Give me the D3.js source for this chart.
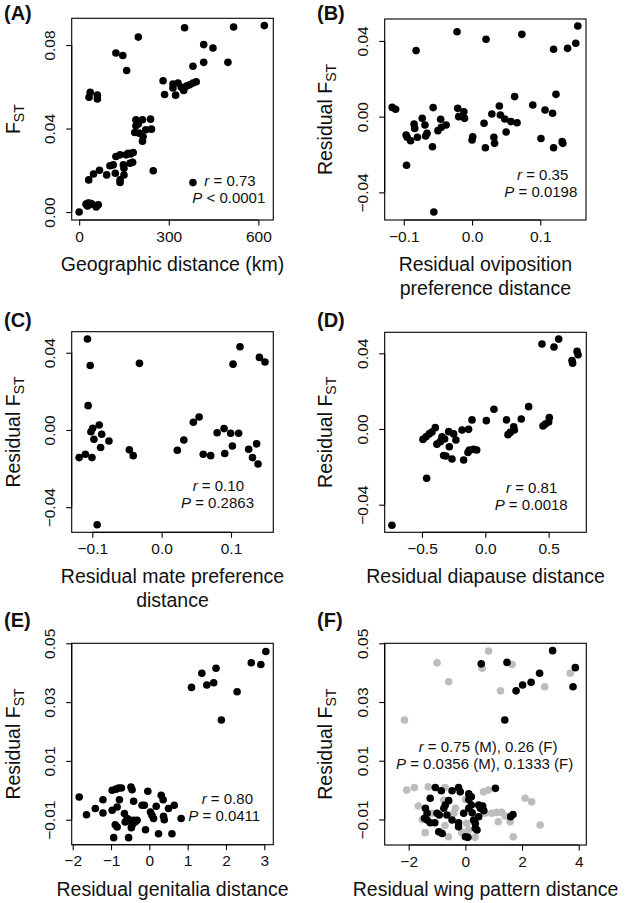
<!DOCTYPE html>
<html><head><meta charset="utf-8">
<script src="https://cdn.jsdelivr.net/npm/d3@7"></script>
<style>
body{margin:0;background:#fff}
svg{font-family:"Liberation Sans",Arial,Helvetica,sans-serif}
</style>
</head><body>
<svg id="chart" width="625" height="903"></svg>
<script>
// ---------------- DATA ----------------
const panelLabels = ["(A)", "(B)", "(C)", "(D)", "(E)", "(F)"];
const xTitles = [
  ["Geographic distance (km)"],
  ["Residual oviposition", "preference distance"],
  ["Residual mate preference", "distance"],
  ["Residual diapause distance"],
  ["Residual genitalia distance"],
  ["Residual wing pattern distance"]
];
const yTitlePrefixes = ["", "Residual ", "Residual ", "Residual ", "Residual ", "Residual "];
const xTickValues = [[0, 300, 600], [-0.1, 0, 0.1], [-0.1, 0, 0.1], [-0.5, 0, 0.5], [-2, -1, 0, 1, 2, 3], [-2, 0, 2, 4]];
const xTickLabels = [["0", "300", "600"], ["\u22120.1", "0.0", "0.1"], ["\u22120.1", "0.0", "0.1"], ["\u22120.5", "0.0", "0.5"],
  ["\u22122", "\u22121", "0", "1", "2", "3"], ["\u22122", "0", "2", "4"]];
const yTickValues = [[0, 0.04, 0.08], [-0.04, 0, 0.04], [-0.04, 0, 0.04], [-0.04, 0, 0.04], [-0.01, 0.01, 0.03, 0.05], [-0.01, 0.01, 0.03, 0.05]];
const yTickLabels = [["0.00", "0.04", "0.08"], ["\u22120.04", "0.00", "0.04"], ["\u22120.04", "0.00", "0.04"], ["\u22120.04", "0.00", "0.04"],
  ["\u22120.01", "0.01", "0.03", "0.05"], ["\u22120.01", "0.01", "0.03", "0.05"]];
const xDomains = [[-25, 650], [-0.128, 0.167], [-0.1297, 0.161], [-0.794, 0.797], [-2.026, 3.235], [-2.847, 4.268]];
const yDomains = [[-0.0038, 0.0928], [-0.0546, 0.0516], [-0.053, 0.0509], [-0.0546, 0.0511], [-0.0185, 0.05], [-0.0187, 0.05]];
const statR = ["0.73", "0.35", "0.10", "0.81", "0.80", "0.75 (M), 0.26 (F)"];
const statRel = ["<", "=", "=", "=", "=", "="];
const statP = ["0.0001", "0.0198", "0.2863", "0.0018", "0.0411", "0.0356 (M), 0.1333 (F)"];

const pointsA = [[0,0],[23,0.0038],[30,0.0043],[37,0.0042],[28,0.0029],[43,0.0038],[57,0.0024],[64,0.0035],
  [32,0.0154],[48,0.0182],[68,0.020],[37,0.0573],[33,0.055],[61,0.056],[61,0.0542],[123,0.0762],[146,0.075],
  [159,0.0678],[198,0.0838],[92,0.0178],[103,0.0222],[114,0.0226],[121,0.0186],[123,0.0266],[137,0.0274],
  [137,0.0154],[137,0.0142],[150,0.0178],[148,0.0226],[150,0.021],[157,0.0274],[164,0.0282],[172,0.0278],
  [179,0.0238],[181,0.0285],[170,0.0234],[248,0.0198],[190,0.0442],[190,0.0413],[212,0.0442],[239,0.0445],
  [186,0.0381],[201,0.0378],[214,0.0362],[212,0.0339],[223,0.0394],[242,0.0397],[198,0.0422],[281,0.0629],
  [286,0.0563],[314,0.0613],[323,0.056],[331,0.0618],[342,0.0598],[350,0.0582],[353,0.0598],[361,0.0605],
  [370,0.061],[381,0.0618],[392,0.0624],[314,0.0594],[381,0.0698],[417,0.0717],[417,0.0802],[448,0.0786],
  [498,0.0717],[353,0.0883],[517,0.0886],[620,0.0893],[381,0.0141]];
const pointsB = [[-0.117,0.0049],[-0.112,0.0039],[-0.0966,-0.0097],[-0.095,-0.0109],[-0.096,-0.0257],[-0.090,-0.0127],
  [-0.085,-0.0039],[-0.084,-0.0062],[-0.082,0.0349],[-0.080,-0.0109],[-0.073,-0.0009],[-0.069,-0.0044],
  [-0.068,-0.0102],[-0.066,-0.0088],[-0.057,0.0048],[-0.058,-0.0159],[-0.056,-0.0504],[-0.050,-0.0074],
  [-0.046,-0.0014],[-0.045,-0.0056],[-0.038,-0.0044],[-0.022,0.0449],[-0.021,0.0044],[-0.0195,0],
  [-0.012,0.0026],[-0.011,-0.0009],[0.001,-0.0106],[0.000,-0.0123],[0.0176,-0.0035],[0.0195,-0.0164],
  [0.0205,0.0409],[0.029,0.0014],[0.032,-0.0109],[0.033,-0.0141],[0.040,0.0056],[0.0415,0.0009],
  [0.048,-0.0012],[0.050,-0.0081],[0.057,-0.0026],[0.0624,0.0106],[0.066,-0.0032],[0.073,0.0435],
  [0.089,0.0062],[0.101,-0.0115],[0.107,0.0035],[0.118,0.0018],[0.1195,0.0356],[0.1195,-0.0164],
  [0.123,0.0118],[0.132,-0.0132],[0.133,-0.0141],[0.140,0.0361],[0.152,0.0388],[0.155,0.0479]];
const pointsC = [[-0.119,-0.0143],[-0.110,-0.0126],[-0.107,0.0471],[-0.103,0.0334],[-0.106,0.0126],[-0.102,-0.0009],
  [-0.1005,-0.0143],[-0.0995,0.0009],[-0.0976,-0.0048],[-0.093,-0.0491],[-0.090,0.0026],[-0.088,-0.0091],
  [-0.0865,-0.0022],[-0.076,-0.0057],[-0.0466,-0.0103],[-0.041,-0.0133],[-0.032,0.0345],[0.0226,-0.0105],
  [0.032,-0.0052],[0.0457,0.004],[0.054,0.0067],[0.060,-0.0126],[0.0707,-0.0133],[0.080,-0.0014],
  [0.090,0.0007],[0.091,-0.0122],[0.0995,-0.0017],[0.102,-0.0083],[0.103,0.0341],[0.111,-0.0017],
  [0.113,0.0431],[0.1255,-0.01],[0.131,-0.0143],[0.137,-0.0072],[0.139,-0.0176],[0.141,0.0376],[0.149,0.0352]];
const pointsD = [[-0.737,-0.0509],[-0.492,-0.0055],[-0.468,-0.0041],[-0.463,-0.0261],[-0.442,-0.0026],[-0.421,-0.0016],
  [-0.395,0.0007],[-0.382,-0.008],[-0.355,-0.0067],[-0.342,-0.0041],[-0.329,-0.014],[-0.321,-0.0053],
  [-0.311,-0.0143],[-0.289,-0.0014],[-0.284,-0.0094],[-0.263,-0.0159],[-0.25,-0.0026],[-0.232,-0.0058],
  [-0.184,-0.0005],[-0.171,-0.0164],[-0.132,-0.0002],[-0.137,-0.0124],[-0.126,-0.0111],[-0.105,0.0048],
  [-0.092,-0.0108],[-0.068,-0.0111],[0.008,0.0044],[0.068,0.0104],[0.168,0.0048],[0.179,-0.003],
  [0.197,-0.0018],[0.224,0.0012],[0.229,-0.0005],[0.284,0.0053],[0.342,0.0118],[0.447,0.0449],
  [0.455,0.0016],[0.474,0.0026],[0.5,0.0037],[0.505,0.006],[0.542,0.0433],[0.579,0.0475],
  [0.684,0.0362],[0.689,0.0348],[0.724,0.041],[0.732,0.0392]];
const pointsE = [[-1.83,-0.0023],[-1.64,-0.0083],[-1.41,-0.0062],[-1.21,-0.0032],[-1.21,-0.0077],[-0.97,0.0],
  [-0.87,0.0004],[-0.80,0.0008],[-0.73,0.0008],[-0.78,-0.0032],[-0.97,-0.0068],[-0.84,-0.0057],
  [-0.89,-0.0117],[-0.84,-0.0125],[-0.93,-0.0161],[-0.65,-0.0079],[-0.58,-0.0096],[-0.63,-0.0108],
  [-0.54,-0.0161],[-0.48,0.0011],[-0.45,0.0002],[-0.41,-0.0037],[-0.50,-0.0102],[-0.41,-0.0102],
  [-0.45,-0.0119],[-0.37,-0.0108],[-0.32,-0.0102],[-0.47,-0.0127],[-0.19,-0.0051],[-0.13,-0.0051],
  [-0.10,-0.0134],[-0.04,-0.0003],[0.03,-0.0074],[0.07,-0.0085],[0.11,-0.0096],[0.18,-0.0054],
  [0.24,-0.0148],[0.31,-0.0017],[0.36,-0.0032],[0.37,-0.0088],[0.39,-0.01],[0.50,-0.0062],
  [0.59,-0.0148],[0.65,-0.0051],[0.83,-0.0096],[1.10,0.035],[1.37,0.0398],[1.50,0.0358],[1.68,0.0366],
  [1.74,0.0415],[1.88,0.0239],[2.29,0.0335],[2.66,0.0434],[2.91,0.0428],[3.04,0.0472]];
const pointsFFemale = [[-2.15,0.0239],[-1.0,0.0434],[-0.59,0.0369],[0.59,0.0415],[0.82,0.0474],[1.65,0.0428],
  [1.24,0.0338],[2.8,0.0352],[3.7,0.0398],[-2.07,0.0],[-1.80,0.0009],[-1.31,0.0011],[-0.72,0.0009],
  [0.64,-0.0006],[0.81,0.0],[-1.66,-0.0054],[-1.52,-0.01],[-1.42,-0.0145],[-0.89,-0.0142],[-0.72,-0.0121],
  [-0.13,-0.0144],[0.05,-0.0113],[0.34,-0.0161],[0.69,-0.0079],[0.93,-0.0079],[1.11,-0.0076],[1.28,-0.0076],
  [1.40,-0.0088],[1.16,-0.0108],[-0.60,-0.0159],[0.11,-0.0136],[2.11,-0.0028],[2.34,-0.004],[1.58,-0.0108],
  [2.64,-0.0119],[1.69,-0.0159],[-0.76,-0.0034],[0.0,-0.0032],[-1.18,-0.0079],[-0.41,-0.0079],[-0.35,-0.0062]];
const pointsFMale = [[-1.06,0.0009],[-0.85,-0.0002],[-0.47,-0.0002],[-0.24,0.0009],[-0.18,-0.0006],[0.12,-0.0013],
  [0.12,-0.0032],[0.21,-0.0023],[1.06,0.0006],[-1.24,-0.0028],[-1.41,-0.0062],[-1.35,-0.0079],[-1.44,-0.0096],
  [-1.35,-0.0102],[-1.24,-0.0111],[-1.08,-0.0111],[-0.94,-0.0142],[-0.82,-0.0148],[-1.0,-0.0079],
  [-0.76,-0.0062],[-0.59,-0.0036],[-0.71,-0.0051],[-0.92,-0.0085],[-0.65,-0.0085],[-0.47,-0.0102],
  [-0.24,-0.0111],[-0.24,-0.0125],[-0.06,-0.0079],[0.0,-0.0159],[0.09,-0.0161],[0.12,-0.0062],[0.21,-0.0051],
  [0.24,-0.0077],[0.29,-0.0102],[0.35,-0.0113],[0.35,-0.013],[0.41,-0.0136],[0.47,-0.0051],[0.53,-0.0062],
  [0.61,-0.0054],[0.65,-0.007],[0.47,-0.0091],[1.60,-0.0091],[1.68,-0.0083],[0.56,0.043],[1.47,0.0435],
  [1.39,0.0239],[1.79,0.0338],[2.02,0.0358],[2.32,0.0367],[2.62,0.0398],[3.08,0.0475],[3.80,0.0352],[3.88,0.0417]];

const pointSets = [
  [{pts: pointsA, color: "#000"}],
  [{pts: pointsB, color: "#000"}],
  [{pts: pointsC, color: "#000"}],
  [{pts: pointsD, color: "#000"}],
  [{pts: pointsE, color: "#000"}],
  [{pts: pointsFFemale, color: "#bdbdbd"}, {pts: pointsFMale, color: "#000"}]
];

// ---------------- LAYOUT ----------------
const boxes = [ // left, right, top, bottom
  [71.7, 273.3, 18.3, 220], [384.7, 586, 19, 220],
  [71.7, 273.3, 331.7, 532.3], [384.7, 586.3, 332.3, 532.3],
  [71.7, 273.3, 643.3, 844.7], [384.7, 586.3, 643.3, 845]
];
const labelPos = [[4, 20], [317, 20], [4, 327], [317, 327], [4, 627], [317, 627]];
const statPos = [ // r line start x, baseline y, P line start x, baseline y
  [204.3, 186, 192.3, 203], [517, 179.5, 504.3, 197],
  [192.7, 491, 181, 508], [506, 492.5, 494.7, 509.5],
  [201.7, 804, 188.3, 821], [418.7, 751.5, 396, 768.5]
];

const svg = d3.select("#chart");
const tickFont = 15.5, statFont = 15, titleFont = 19.5, labelFont = 20;

boxes.forEach((b, i) => {
  const [L, R, T, B] = b;
  const x = d3.scaleLinear().domain(xDomains[i]).range([L, R]);
  const y = d3.scaleLinear().domain(yDomains[i]).range([B, T]);
  const g = svg.append("g");

  // points
  pointSets[i].forEach(s => {
    g.append("g").selectAll("circle").data(s.pts).join("circle")
      .attr("cx", d => x(d[0])).attr("cy", d => y(d[1])).attr("r", 3.8)
      .attr("fill", s.color);
  });

  // box
  g.append("rect").attr("x", L).attr("y", T).attr("width", R - L).attr("height", B - T)
    .attr("fill", "none").attr("stroke", "#000").attr("stroke-width", 1.1);

  // x axis
  const xa = d3.axisBottom(x).tickValues(xTickValues[i]).tickSize(5.5)
    .tickFormat((d, k) => xTickLabels[i][k]);
  const gx = g.append("g").attr("transform", `translate(0,${B})`).call(xa);
  gx.select(".domain").attr("d", `M${x(xTickValues[i][0])},0H${x(xTickValues[i][xTickValues[i].length-1])}`).attr("stroke-width", 1.1);
  gx.selectAll(".tick line").attr("stroke-width", 1.1);
  gx.selectAll(".tick text").attr("font-size", tickFont).attr("font-family", null).attr("y", 10.5).attr("dy", "0.71em").attr("fill", "#111");

  // y axis
  const ya = d3.axisLeft(y).tickValues(yTickValues[i]).tickSize(5.5)
    .tickFormat((d, k) => yTickLabels[i][k]);
  const gy = g.append("g").attr("transform", `translate(${L},0)`).call(ya);
  gy.select(".domain").attr("d", `M0,${y(yTickValues[i][0])}V${y(yTickValues[i][yTickValues[i].length-1])}`).attr("stroke-width", 1.1);
  gy.selectAll(".tick line").attr("stroke-width", 1.1);
  gy.selectAll(".tick text").attr("font-size", tickFont).attr("font-family", null)
    .attr("x", null).attr("dy", null).attr("text-anchor", "middle").attr("fill", "#111")
    .attr("transform", "translate(-17,0) rotate(-90)");

  // x title
  xTitles[i].forEach((t, k) => {
    g.append("text").attr("x", (L + R) / 2).attr("y", B + 51 + k * 23.5)
      .attr("text-anchor", "middle").attr("font-size", titleFont).attr("fill", "#111").text(t);
  });

  // y title
  const colX = i % 2 === 0 ? 0 : 312;
  const yt = g.append("text").attr("transform", `translate(${colX + 19.5},${(T + B) / 2}) rotate(-90)`)
    .attr("text-anchor", "middle").attr("font-size", titleFont).attr("fill", "#111");
  yt.append("tspan").text(yTitlePrefixes[i] + "F");
  yt.append("tspan").attr("font-size", titleFont * 0.72).attr("dy", 4.5).text("ST");

  // panel label
  g.append("text").attr("x", labelPos[i][0]).attr("y", labelPos[i][1])
    .attr("font-size", labelFont).attr("font-weight", "bold").attr("fill", "#111").text(panelLabels[i]);

  // stats
  const sp = statPos[i];
  const t1 = g.append("text").attr("x", sp[0]).attr("y", sp[1]).attr("font-size", statFont).attr("fill", "#111");
  t1.append("tspan").attr("font-style", "italic").text("r");
  t1.append("tspan").text(" = " + statR[i]);
  const t2 = g.append("text").attr("x", sp[2]).attr("y", sp[3]).attr("font-size", statFont).attr("fill", "#111");
  t2.append("tspan").attr("font-style", "italic").text("P");
  t2.append("tspan").text(" " + statRel[i] + " " + statP[i]);
});
</script>
</body></html>
